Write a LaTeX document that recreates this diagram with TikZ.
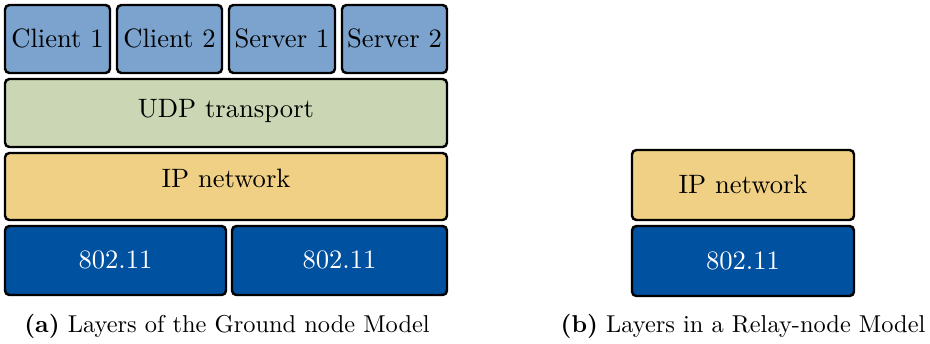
\documentclass[tikz,border=0pt]{standalone}
\usetikzlibrary{fit}
\definecolor{appblue}{RGB}{123,163,206}
\definecolor{udpgreen}{RGB}{202,214,180}
\definecolor{ipyellow}{RGB}{240,208,132}
\definecolor{macblue}{RGB}{0,81,160}
\begin{document}
\begin{tikzpicture}[x=0.41pt,y=-0.41pt,
  layer/.style={draw=black,line width=1pt,rounded corners=1.8pt,inner sep=0pt},
  app/.style={layer,fill=appblue},
  udp/.style={layer,fill=udpgreen},
  ip/.style={layer,fill=ipyellow},
  mac/.style={layer,fill=macblue},
  lbl/.style={inner sep=0pt,anchor=center,text height=0.68em,text depth=0pt,
    font=\fontsize{10.9pt}{13pt}\selectfont},
  wlbl/.style={lbl,text=white},
  captext/.style={font=\fontsize{10pt}{12pt}\selectfont,inner sep=0pt}]
\useasboundingbox (0,0) rectangle (930,343);
% (a) ground node
\node[app,fit={(5,5) (110,73)}] (c1) {};
\node[app,fit={(117,5) (222,73)}] (c2) {};
\node[app,fit={(229,5) (335,73)}] (s1) {};
\node[app,fit={(342,5) (447,73)}] (s2) {};
\node[udp,fit={(5,79) (447,147)}] (udp) {};
\node[ip,fit={(5,153) (447,220)}] (ipa) {};
\node[mac,fit={(5,226) (226,295)}] (maca) {};
\node[mac,fit={(232,226) (447,295)}] (macb) {};
\node[lbl] (c1t) at (c1.center) {Client 1};
\node[lbl] (c2t) at (c2.center) {Client 2};
\node[lbl] (s1t) at (s1.center) {Server 1};
\node[lbl] (s2t) at (s2.center) {Server 2};
\node[lbl] (udpt) at ([yshift=1.4pt]udp.center) {UDP transport};
\node[lbl] (ipat) at ([yshift=3pt]ipa.center) {IP network};
\node[wlbl] (macat) at (maca.center) {802.11};
\node[wlbl] (macbt) at (macb.center) {802.11};
\node[captext] (capa) at (227,326) {\textbf{(a)} Layers of the Ground node Model};
% (b) relay node
\node[ip,fit={(632,150) (854,220)}] (ipr) {};
\node[mac,fit={(632,226) (854,296)}] (macr) {};
\node[lbl] (iprt) at (ipr.center) {IP network};
\node[wlbl] (macrt) at (macr.center) {802.11};
\node[captext] (capb) at (743,326) {\textbf{(b)} Layers in a Relay-node Model};
\end{tikzpicture}
\end{document}
